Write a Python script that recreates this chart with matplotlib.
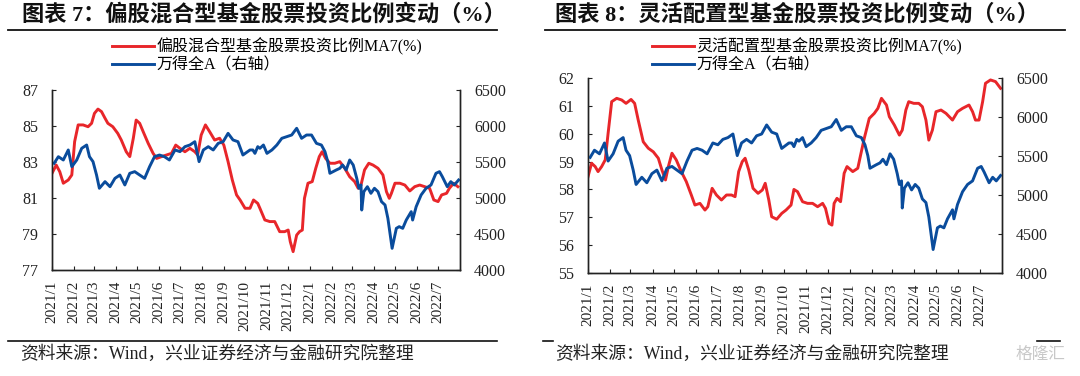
import pandas as pd
import matplotlib.pyplot as plt
from matplotlib.lines import Line2D

plt.rcParams['font.family'] = ['Liberation Serif', 'Noto Sans CJK SC']
plt.rcParams['axes.unicode_minus'] = False

RED = '#E8262A'
BLUE = '#0A4C9C'

TICK_LABELS = ['2021/1', '2021/2', '2021/3', '2021/4', '2021/5', '2021/6', '2021/7',
               '2021/8', '2021/9', '2021/10', '2021/11', '2021/12', '2022/1', '2022/2',
               '2022/3', '2022/4', '2022/5', '2022/6', '2022/7']

# 万得全A (right axis, same in both panels)
BLUE_DATES = ['2021-01-04', '2021-01-10', '2021-01-17', '2021-01-24', '2021-01-29', '2021-02-05',
              '2021-02-12', '2021-02-19', '2021-02-23', '2021-02-28', '2021-03-05', '2021-03-09',
              '2021-03-17', '2021-03-24', '2021-03-31', '2021-04-07', '2021-04-14', '2021-04-21',
              '2021-04-28', '2021-05-05', '2021-05-12', '2021-05-19', '2021-05-26', '2021-06-02',
              '2021-06-09', '2021-06-16', '2021-06-24', '2021-07-01', '2021-07-08', '2021-07-15',
              '2021-07-22', '2021-07-28', '2021-08-03', '2021-08-10', '2021-08-17', '2021-08-24',
              '2021-08-31', '2021-09-07', '2021-09-14', '2021-09-21', '2021-09-28', '2021-10-08',
              '2021-10-12', '2021-10-15', '2021-10-19', '2021-10-22', '2021-10-27', '2021-11-01',
              '2021-11-08', '2021-11-15', '2021-11-22', '2021-11-29', '2021-12-06', '2021-12-13',
              '2021-12-20', '2021-12-27', '2022-01-03', '2022-01-10', '2022-01-17', '2022-01-22',
              '2022-01-26', '2022-01-29', '2022-02-07', '2022-02-12', '2022-02-16', '2022-02-21',
              '2022-02-26', '2022-03-03', '2022-03-08', '2022-03-11', '2022-03-14', '2022-03-15',
              '2022-03-18', '2022-03-23', '2022-03-28', '2022-04-02', '2022-04-07', '2022-04-12',
              '2022-04-17', '2022-04-21', '2022-04-27', '2022-05-03', '2022-05-07', '2022-05-12',
              '2022-05-17', '2022-05-24', '2022-05-26', '2022-05-31', '2022-06-07', '2022-06-14',
              '2022-06-21', '2022-06-28', '2022-07-03', '2022-07-07', '2022-07-14', '2022-07-19',
              '2022-07-24', '2022-07-30']
BLUE_VALS = [5482, 5574, 5528, 5667, 5435, 5528,
             5690, 5736, 5574, 5505, 5319, 5135,
             5227, 5157, 5273, 5319, 5181, 5343,
             5366, 5319, 5273, 5435, 5574, 5597,
             5574, 5528, 5667, 5644, 5713, 5736,
             5782, 5505, 5667, 5713, 5667, 5759,
             5782, 5898, 5806, 5782, 5597, 5667,
             5667, 5620, 5713, 5690, 5736, 5620,
             5667, 5736, 5829, 5852, 5875, 5968,
             5829, 5875, 5875, 5759, 5736, 5644,
             5505, 5343, 5389, 5412, 5458, 5389,
             5528, 5458, 5273, 5135, 5181, 4833,
             5088, 5157, 5065, 5135, 5088, 4949,
             4903, 4718, 4301, 4579, 4602, 4579,
             4694, 4810, 4694, 4879, 5042, 5135,
             5181, 5343, 5366, 5296, 5157, 5227,
             5181, 5250]

# 偏股混合型基金股票投资比例MA7(%)
MIX_DATES = ['2021-01-01', '2021-01-07', '2021-01-12', '2021-01-17', '2021-01-24', '2021-01-29',
             '2021-02-02', '2021-02-07', '2021-02-14', '2021-02-21', '2021-02-26', '2021-03-02',
             '2021-03-07', '2021-03-12', '2021-03-17', '2021-03-21', '2021-03-28', '2021-04-04',
             '2021-04-09', '2021-04-16', '2021-04-21', '2021-04-26', '2021-04-30', '2021-05-05',
             '2021-05-10', '2021-05-17', '2021-05-24', '2021-05-29', '2021-06-05', '2021-06-12',
             '2021-06-19', '2021-06-25', '2021-07-01', '2021-07-08', '2021-07-15', '2021-07-22',
             '2021-07-26', '2021-07-31', '2021-08-06', '2021-08-12', '2021-08-19', '2021-08-26',
             '2021-09-01', '2021-09-07', '2021-09-13', '2021-09-19', '2021-09-24', '2021-10-01',
             '2021-10-08', '2021-10-13', '2021-10-19', '2021-10-22', '2021-10-29', '2021-11-05',
             '2021-11-12', '2021-11-19', '2021-11-26', '2021-12-01', '2021-12-04', '2021-12-08',
             '2021-12-13', '2021-12-17', '2021-12-21', '2021-12-24', '2021-12-29', '2022-01-04',
             '2022-01-09', '2022-01-14', '2022-01-18', '2022-01-23', '2022-01-29', '2022-02-05',
             '2022-02-12', '2022-02-19', '2022-02-26', '2022-03-05', '2022-03-10', '2022-03-14',
             '2022-03-19', '2022-03-25', '2022-03-31', '2022-04-07', '2022-04-14', '2022-04-19',
             '2022-04-23', '2022-04-26', '2022-05-01', '2022-05-08', '2022-05-15', '2022-05-22',
             '2022-05-29', '2022-06-05', '2022-06-12', '2022-06-19', '2022-06-25', '2022-07-01',
             '2022-07-06', '2022-07-13', '2022-07-17', '2022-07-23', '2022-07-29']
MIX_VALS = [82.37, 82.83, 82.46, 81.82, 82.00, 82.28,
            84.13, 85.06, 85.06, 84.96, 85.15, 85.70,
            85.94, 85.80, 85.43, 85.15, 84.96, 84.59,
            84.22, 83.57, 83.30, 84.32, 85.33, 85.15,
            84.68, 84.04, 83.48, 83.20, 83.30, 83.39,
            83.48, 83.94, 83.76, 83.57, 83.76, 83.57,
            83.39, 84.50, 85.06, 84.68, 84.22, 84.32,
            83.94, 83.02, 82.00, 81.17, 80.89, 80.43,
            80.43, 80.89, 80.70, 80.43, 79.78, 79.69,
            79.69, 79.13, 79.13, 79.22, 78.57, 78.02,
            78.94, 79.13, 79.22, 80.98, 81.82, 81.91,
            82.65, 83.30, 83.57, 83.20, 82.93, 82.93,
            83.02, 82.65, 82.18, 81.91, 81.54, 81.72,
            82.56, 82.93, 82.83, 82.65, 82.28, 81.35,
            80.98, 81.26, 81.82, 81.82, 81.72, 81.39,
            81.63, 81.72, 81.63, 81.54, 80.89, 80.80,
            81.17, 81.26, 81.54, 81.82, 81.63]

# 灵活配置型基金股票投资比例MA7(%)
FLEX_DATES = ['2021-01-01', '2021-01-06', '2021-01-11', '2021-01-15', '2021-01-20', '2021-01-25',
              '2021-01-29', '2021-02-03', '2021-02-10', '2021-02-17', '2021-02-23', '2021-03-02',
              '2021-03-07', '2021-03-12', '2021-03-19', '2021-03-26', '2021-04-02', '2021-04-09',
              '2021-04-14', '2021-04-19', '2021-04-23', '2021-04-28', '2021-05-04', '2021-05-11',
              '2021-05-18', '2021-05-25', '2021-05-30', '2021-06-06', '2021-06-13', '2021-06-17',
              '2021-06-23', '2021-06-29', '2021-07-06', '2021-07-13', '2021-07-20', '2021-07-25',
              '2021-07-30', '2021-08-04', '2021-08-08', '2021-08-13', '2021-08-19', '2021-08-26',
              '2021-09-01', '2021-09-05', '2021-09-10', '2021-09-14', '2021-09-21', '2021-09-28',
              '2021-10-04', '2021-10-11', '2021-10-15', '2021-10-20', '2021-10-27', '2021-11-03',
              '2021-11-10', '2021-11-17', '2021-11-24', '2021-11-28', '2021-12-03', '2021-12-07',
              '2021-12-10', '2021-12-14', '2021-12-19', '2021-12-24', '2021-12-28', '2022-01-05',
              '2022-01-12', '2022-01-16', '2022-01-21', '2022-01-28', '2022-02-04', '2022-02-09',
              '2022-02-14', '2022-02-21', '2022-02-25', '2022-03-04', '2022-03-11', '2022-03-15',
              '2022-03-20', '2022-03-24', '2022-03-31', '2022-04-07', '2022-04-12', '2022-04-17',
              '2022-04-21', '2022-04-26', '2022-05-01', '2022-05-08', '2022-05-15', '2022-05-24',
              '2022-05-31', '2022-06-07', '2022-06-16', '2022-06-21', '2022-06-25', '2022-06-30',
              '2022-07-05', '2022-07-09', '2022-07-16', '2022-07-23', '2022-07-30']
FLEX_VALS = [58.46, 58.94, 58.82, 58.64, 58.82, 59.06,
             60.01, 61.15, 61.27, 61.21, 61.09, 61.23,
             61.09, 60.49, 59.71, 59.48, 59.35, 59.12,
             58.70, 58.34, 58.82, 59.30, 59.06, 58.64,
             58.28, 57.80, 57.44, 57.50, 57.26, 57.38,
             58.04, 57.80, 57.62, 57.80, 57.80, 57.74,
             58.64, 59.00, 59.12, 58.70, 58.04, 57.86,
             57.98, 58.22, 57.62, 57.02, 56.93, 57.14,
             57.26, 57.44, 58.00, 57.92, 57.56, 57.50,
             57.50, 57.38, 57.50, 57.32, 56.78, 56.72,
             57.50, 57.68, 57.56, 58.58, 58.82, 58.64,
             58.76, 59.24, 59.83, 60.55, 60.73, 60.91,
             61.27, 61.03, 60.61, 60.31, 59.95, 60.13,
             60.85, 61.15, 61.09, 61.09, 60.97, 60.49,
             59.77, 60.13, 60.79, 60.85, 60.73, 60.49,
             60.79, 60.91, 61.03, 60.79, 60.49, 60.49,
             61.15, 61.81, 61.93, 61.87, 61.63]

W, H = 1080, 376


def fx(px):
    return px / W


def fy(py):
    return 1 - py / H


def draw_panel(fig, rect, title, title_x, rule_x, red_label, red_dates, red_vals,
               ylim, yticks, src_x, legend_x):
    ax = fig.add_axes(rect)
    ax2 = ax.twinx()

    ax.plot(pd.to_datetime(red_dates), red_vals, color=RED, linewidth=2.1, label=red_label)
    ax2.plot(pd.to_datetime(BLUE_DATES), BLUE_VALS, color=BLUE, linewidth=2.1, label='万得全A（右轴）')

    ax.set_xlim(pd.Timestamp('2021-01-01'), pd.Timestamp('2022-08-01'))
    ax.set_ylim(*ylim)
    ax.set_yticks(yticks)
    ax2.set_ylim(4000, 6500)
    ax2.set_yticks(range(4000, 6501, 500))

    tick_dates = [pd.Timestamp(t.replace('/', '-') + '-01') for t in TICK_LABELS]
    ax.set_xticks(tick_dates)
    ax.set_xticklabels(TICK_LABELS, rotation=90)

    for a in (ax, ax2):
        a.spines['top'].set_visible(False)
        for s in a.spines.values():
            s.set_color('#222222')
            s.set_linewidth(1.0)
        a.tick_params(direction='in', length=3, width=0.8, colors='#222222',
                      labelcolor='#222222', labelsize=11.5)
    ax.tick_params(axis='y', pad=10)
    ax2.tick_params(axis='y', pad=10)
    ax.tick_params(axis='x', pad=8, labelsize=11)

    h1, l1 = ax.get_legend_handles_labels()
    h2, l2 = ax2.get_legend_handles_labels()
    fig.legend(h1 + h2, l1 + l2, loc='upper left', bbox_to_anchor=(fx(legend_x), fy(38)),
               bbox_transform=fig.transFigure, frameon=False, fontsize=11.5,
               handlelength=2.6, handletextpad=0.2, labelspacing=0.15,
               borderaxespad=0, borderpad=0)

    fig.text(fx(title_x), fy(15), title, fontsize=16, fontweight='bold',
             ha='left', va='center', color='#111111')
    fig.add_artist(Line2D([fx(rule_x[0]), fx(rule_x[1])], [fy(30), fy(30)],
                          color='#111111', linewidth=1.3))
    fig.text(fx(src_x), fy(354), '资料来源：Wind，兴业证券经济与金融研究院整理',
             fontsize=12.8, ha='left', va='center', color='#222222')
    return ax


fig = plt.figure(figsize=(W / 100, H / 100), dpi=100)

draw_panel(fig, [fx(52), fy(270), fx(460) - fx(52), fy(90) - fy(270)],
           '图表 7：偏股混合型基金股票投资比例变动（%）', 22, (8, 497),
           '偏股混合型基金股票投资比例MA7(%)', MIX_DATES, MIX_VALS,
           (77, 87), range(77, 88, 2), 20, 112)
fig.add_artist(Line2D([fx(8), fx(497)], [fy(341), fy(341)], color='#111111', linewidth=1.2))

draw_panel(fig, [fx(588), fy(273), fx(1002) - fx(588), fy(78) - fy(273)],
           '图表 8：灵活配置型基金股票投资比例变动（%）', 555, (545, 1065),
           '灵活配置型基金股票投资比例MA7(%)', FLEX_DATES, FLEX_VALS,
           (55, 62), range(55, 63), 555, 652)
fig.add_artist(Line2D([fx(543), fx(553)], [fy(341), fy(341)], color='#111111', linewidth=1.2))
fig.add_artist(Line2D([fx(1037), fx(1060)], [fy(341), fy(341)], color='#111111', linewidth=1.2))

fig.text(fx(1040), fy(355), '格隆汇', fontsize=12, color='#C8C8C8', ha='center', va='center')

fig.savefig('out.png', dpi=100)
